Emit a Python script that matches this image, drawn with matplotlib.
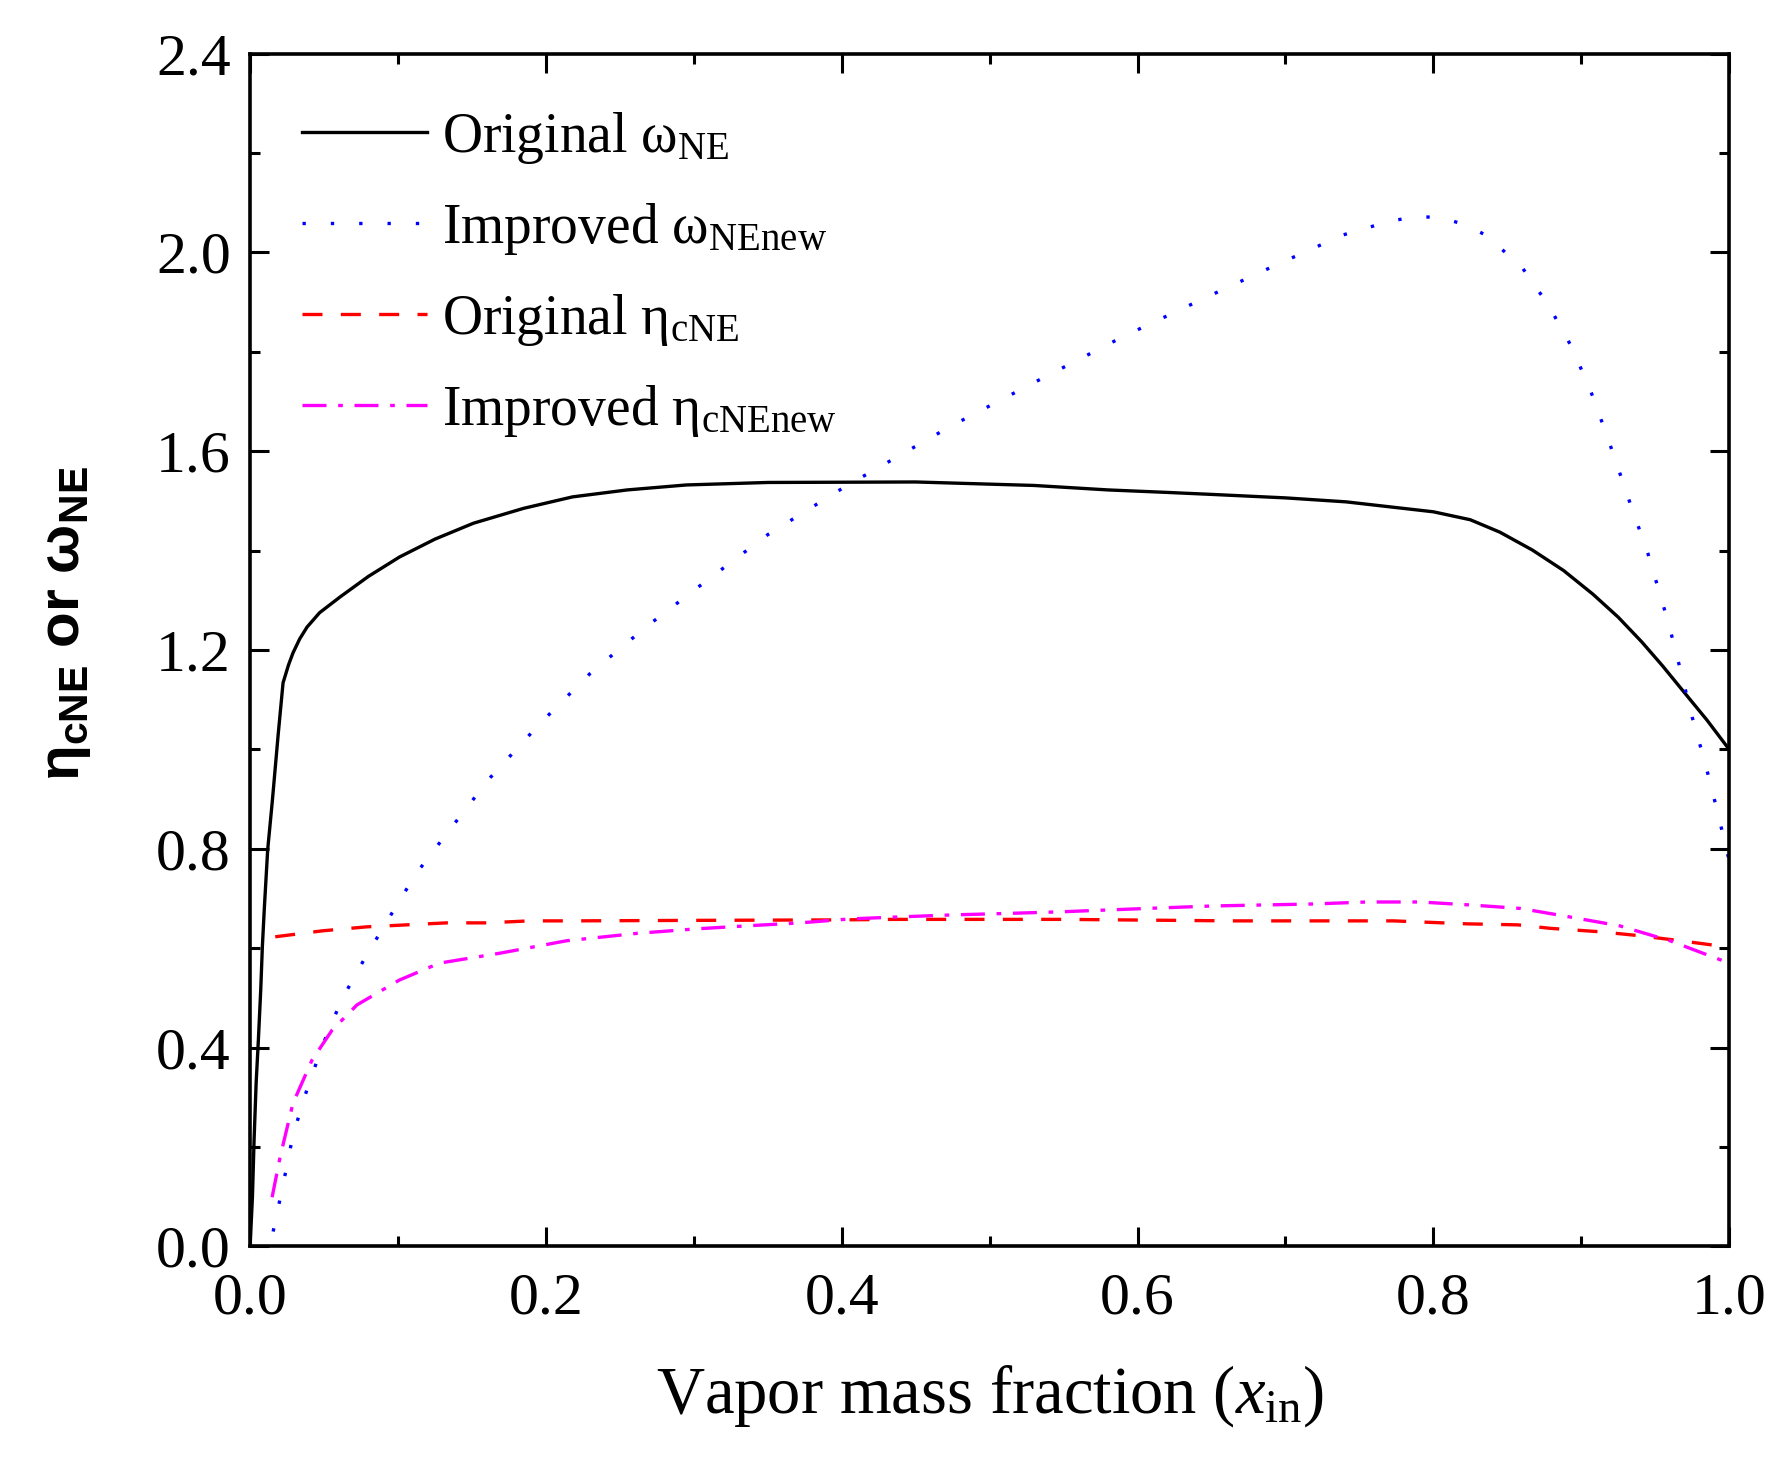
import matplotlib
matplotlib.use("Agg")
import matplotlib.pyplot as plt
from matplotlib.ticker import MultipleLocator, FormatStrFormatter

plt.rcParams['font.family'] = ['Liberation Serif', 'DejaVu Serif']
plt.rcParams['mathtext.fontset'] = 'custom'
plt.rcParams['mathtext.rm'] = 'Liberation Serif'
plt.rcParams['mathtext.it'] = 'Liberation Serif:italic'
plt.rcParams['mathtext.bf'] = 'Liberation Serif:bold'
plt.rcParams['mathtext.default'] = 'regular'

# Original omega_NE (black solid)
x_omega = [0.0, 0.0016, 0.0027, 0.0041, 0.0056, 0.0072, 0.0083, 0.0097, 0.0119, 0.0151,
           0.0190, 0.0223, 0.026, 0.029, 0.0335, 0.0385, 0.047, 0.061, 0.080, 0.101,
           0.125, 0.151, 0.185, 0.218, 0.255, 0.295, 0.35, 0.45,
           0.53, 0.58, 0.62, 0.65, 0.70, 0.741, 0.80, 0.825, 0.845, 0.867, 0.888,
           0.908, 0.925, 0.941, 0.955, 0.969, 0.985, 1.0]
y_omega = [0.0, 0.10, 0.214, 0.329, 0.415, 0.516, 0.603, 0.684, 0.798, 0.898,
           1.030, 1.134, 1.170, 1.194, 1.222, 1.246, 1.275, 1.307, 1.348, 1.387,
           1.423, 1.455, 1.485, 1.508, 1.522, 1.532, 1.537, 1.538,
           1.531, 1.522, 1.517, 1.513, 1.506, 1.498, 1.478, 1.462, 1.437, 1.401, 1.360,
           1.312, 1.266, 1.216, 1.168, 1.117, 1.059, 1.0]

# Improved omega_NEnew (blue dotted)
x_omega_new = [0.0156, 0.0225, 0.029, 0.0385, 0.049, 0.062, 0.078, 0.095, 0.112, 0.132,
               0.162, 0.196, 0.230, 0.268, 0.3076, 0.35, 0.402, 0.473, 0.532, 0.590,
               0.649, 0.694, 0.739, 0.771, 0.787, 0.803, 0.819, 0.834, 0.859, 0.878,
               0.894, 0.907, 0.918, 0.934, 0.945, 0.959, 0.967, 0.975, 0.984, 0.992, 1.0]
y_omega_new = [0.03, 0.127, 0.224, 0.316, 0.405, 0.497, 0.582, 0.666, 0.749, 0.827,
               0.942, 1.052, 1.153, 1.247, 1.337, 1.432, 1.528, 1.649, 1.741, 1.830,
               1.913, 1.975, 2.035, 2.063, 2.071, 2.071, 2.058, 2.037, 1.974, 1.893,
               1.807, 1.716, 1.626, 1.487, 1.395, 1.254, 1.161, 1.065, 0.970, 0.876, 0.777]

# Original eta_cNE (red dashed)
x_eta = [0.017, 0.049, 0.079, 0.106, 0.133, 0.160, 0.189, 0.218, 0.30, 0.40, 0.435,
         0.525, 0.550, 0.663, 0.773, 0.823, 0.857, 0.879, 0.913, 0.940, 0.967, 1.0]
y_eta = [0.623, 0.635, 0.643, 0.647, 0.651, 0.651, 0.655, 0.655, 0.656, 0.657, 0.658,
         0.658, 0.658, 0.655, 0.655, 0.649, 0.647, 0.640, 0.633, 0.625, 0.615, 0.602]

# Improved eta_cNEnew (magenta dash-dot)
x_eta_new = [0.0149, 0.0203, 0.029, 0.0419, 0.0554, 0.0723, 0.101, 0.128, 0.169, 0.214,
             0.262, 0.302, 0.336, 0.372, 0.406, 0.439, 0.475, 0.512, 0.546, 0.615,
             0.651, 0.719, 0.755, 0.791, 0.825, 0.859, 0.892, 0.926, 0.960, 1.0]
y_eta_new = [0.099, 0.180, 0.288, 0.375, 0.435, 0.486, 0.536, 0.570, 0.590, 0.615,
             0.630, 0.639, 0.645, 0.651, 0.659, 0.663, 0.667, 0.670, 0.673, 0.681,
             0.685, 0.689, 0.693, 0.693, 0.687, 0.680, 0.663, 0.645, 0.615, 0.570]

labels = ['Original ω$_{NE}$', 'Improved ω$_{NEnew}$',
          'Original η$_{cNE}$', 'Improved η$_{cNEnew}$']

fig = plt.figure(figsize=(17.85, 14.58), dpi=100)
ax = fig.add_axes([0.1401, 0.1451, 0.8286, 0.8182])

ax.plot(x_omega, y_omega, color='black', lw=2.4, label=labels[0])
ax.plot(x_omega_new, y_omega_new, color='#0000ff', lw=2.4, linestyle=(0, (1, 7.5)), label=labels[1])
ax.plot(x_eta, y_eta, color='#ff0000', lw=2.4, linestyle=(0, (6, 5.5)), label=labels[2])
ax.plot(x_eta_new, y_eta_new, color='#ff00ff', lw=2.4,
        linestyle=(0, (7.2, 3.5, 1.4, 3.5)), label=labels[3])

ax.set_xlim(0, 1.0)
ax.set_ylim(0, 2.4)
ax.xaxis.set_major_locator(MultipleLocator(0.2))
ax.xaxis.set_minor_locator(MultipleLocator(0.1))
ax.yaxis.set_major_locator(MultipleLocator(0.4))
ax.yaxis.set_minor_locator(MultipleLocator(0.2))
ax.xaxis.set_major_formatter(FormatStrFormatter('%.1f'))
ax.yaxis.set_major_formatter(FormatStrFormatter('%.1f'))

ax.tick_params(which='both', direction='in', top=True, right=True, width=2.2, labelsize=43)
ax.tick_params(which='major', length=14)
ax.tick_params(which='minor', length=7)
ax.tick_params(axis='x', pad=19)
ax.tick_params(axis='y', pad=14)
for sp in ax.spines.values():
    sp.set_linewidth(2.6)

ax.set_xlabel('Vapor mass fraction ($\\mathit{x}_{in}$)', fontsize=48)
ax.xaxis.set_label_coords(0.5, -0.098)
ax.set_ylabel('η$_{cNE}$ or ω$_{NE}$', fontsize=42, family='Liberation Sans', weight='bold')
ax.yaxis.set_label_coords(-0.106, 0.522)

ax.legend(loc='upper left', bbox_to_anchor=(0.035, 0.953), frameon=False, fontsize=40,
          handlelength=2.25, handletextpad=0.27, labelspacing=0.63,
          borderpad=0, borderaxespad=0)

fig.savefig('out.png', dpi=100)
